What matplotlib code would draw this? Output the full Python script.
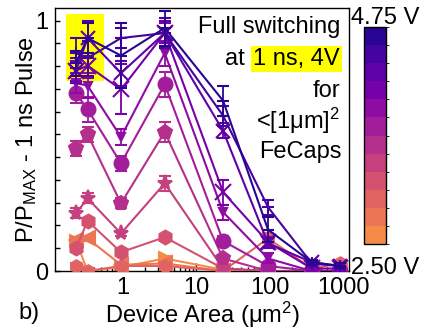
import numpy as np
import matplotlib
matplotlib.use("Agg")
import matplotlib.pyplot as plt
from matplotlib.colors import ListedColormap, BoundaryNorm
from matplotlib.patches import Rectangle
from matplotlib.ticker import MultipleLocator, FixedLocator, LogLocator, NullFormatter, FuncFormatter

plt.rcParams['font.family'] = ['Liberation Sans', 'DejaVu Sans']
plt.rcParams['mathtext.fontset'] = 'custom'
plt.rcParams['mathtext.rm'] = 'Liberation Sans'
plt.rcParams['mathtext.it'] = 'Liberation Sans:italic'

# device areas (um^2)
area = [0.23, 0.33, 0.94, 3.7, 23, 94, 370, 890]

# P/Pmax per pulse voltage, lowest (2.50 V) first
p_00 = [0.12, 0.00, 0.015, 0.05, 0.005, 0.00, 0.00, 0.00]
p_01 = [0.125, 0.13, 0.025, 0.03, 0.00, 0.00, 0.00, 0.00]
p_02 = [0.02, 0.00, 0.02, 0.02, 0.00, 0.13, 0.01, 0.03]
p_03 = [0.09, 0.20, 0.075, 0.135, 0.01, 0.00, 0.00, 0.00]
p_04 = [0.23, 0.29, 0.15, 0.35, 0.01, 0.00, 0.00, 0.00]
p_05 = [0.49, 0.545, 0.27, 0.555, 0.05, 0.00, 0.00, 0.00]
p_06 = [0.71, 0.645, 0.43, 0.745, 0.12, 0.02, 0.00, 0.00]
p_07 = [0.75, 0.74, 0.535, 0.87, 0.235, 0.05, 0.00, 0.00]
p_08 = [0.80, 0.82, 0.725, 0.95, 0.315, 0.115, 0.01, 0.01]
p_09 = [0.80, 0.93, 0.79, 0.95, 0.56, 0.11, 0.035, 0.02]
p_10 = [0.87, 0.85, 0.93, 0.95, 0.62, 0.255, 0.03, 0.02]
p_11 = [0.83, 0.93, 0.86, 0.97, 0.68, 0.165, 0.035, 0.02]

e_00 = [0.01, 0.01, 0.01, 0.01, 0.01, 0.00, 0.00, 0.00]
e_01 = [0.01, 0.01, 0.01, 0.01, 0.01, 0.00, 0.00, 0.00]
e_02 = [0.01, 0.01, 0.01, 0.01, 0.01, 0.02, 0.01, 0.01]
e_03 = [0.01, 0.01, 0.01, 0.01, 0.01, 0.00, 0.00, 0.00]
e_04 = [0.02, 0.02, 0.01, 0.03, 0.01, 0.00, 0.00, 0.00]
e_05 = [0.03, 0.03, 0.02, 0.04, 0.01, 0.00, 0.00, 0.00]
e_06 = [0.04, 0.05, 0.03, 0.05, 0.02, 0.01, 0.00, 0.00]
e_07 = [0.04, 0.05, 0.03, 0.05, 0.03, 0.02, 0.00, 0.00]
e_08 = [0.04, 0.05, 0.10, 0.04, 0.05, 0.02, 0.01, 0.01]
e_09 = [0.05, 0.07, 0.05, 0.05, 0.03, 0.02, 0.01, 0.01]
e_10 = [0.06, 0.07, 0.04, 0.06, 0.04, 0.03, 0.01, 0.01]
e_11 = [0.05, 0.06, 0.13, 0.07, 0.06, 0.05, 0.01, 0.01]

series = [p_00, p_01, p_02, p_03, p_04, p_05, p_06, p_07, p_08, p_09, p_10, p_11]
errors = [e_00, e_01, e_02, e_03, e_04, e_05, e_06, e_07, e_08, e_09, e_10, e_11]
markers = ['>', '<', 'h', 'h', '*', 'p', 'o', 'v', 'x', 'x', '+', '_']
msizes = [9, 10, 9, 10, 11, 10, 10, 6, 11, 10, 8, 8]

cbar_labels = ["2.50 V", "4.75 V"]

# colours: light orange (low V) -> dark indigo (high V)
colors = plt.cm.plasma(np.linspace(0.72, 0.05, 12))

W, H = 429, 329
fig = plt.figure(figsize=(W / 100, H / 100), dpi=100)
ax = fig.add_axes([55 / W, 1 - 271 / H, 294 / W, 263 / H])

# yellow highlight behind the small devices
ax.add_patch(Rectangle((0.168, 0.757), 0.551 - 0.168, 1.028 - 0.757,
                       facecolor='#ffff00', edgecolor='none', zorder=0))

for i in range(len(series)):
    c = colors[i]
    ax.errorbar(area, series[i], yerr=errors[i], color=c, lw=1.5,
                marker=markers[i], ms=msizes[i], mec=c, mfc=c, mew=1.5,
                capsize=4, elinewidth=1.3, capthick=1.3, zorder=2 + i)

ax.set_xscale('log')
ax.set_xlim(0.119, 1188)
ax.set_ylim(0, 1.05)

ax.xaxis.set_major_locator(FixedLocator([1, 10, 100, 1000]))
ax.xaxis.set_major_formatter(FuncFormatter(lambda v, p: "%d" % v))
ax.xaxis.set_minor_locator(LogLocator(base=10, subs=np.arange(2, 10)))
ax.xaxis.set_minor_formatter(NullFormatter())
ax.yaxis.set_major_locator(FixedLocator([0, 1]))
ax.yaxis.set_major_formatter(FuncFormatter(lambda v, p: "%d" % v))
ax.yaxis.set_minor_locator(MultipleLocator(1 / 11))

ax.tick_params(which='both', direction='in', top=False, right=False,
               labelsize=17, width=1)
ax.tick_params(axis='x', which='major', length=5.5, pad=4.5)
ax.tick_params(axis='x', which='minor', length=3)
ax.tick_params(axis='y', which='both', length=3.6, pad=5)
for s in ax.spines.values():
    s.set_linewidth(1)

ax.set_xlabel("Device Area (μm$^2$)", fontsize=17)
ax.set_ylabel(r"P/P$_{\mathrm{MAX}}$ - 1 ns Pulse", fontsize=17)
ax.xaxis.label.set_va('baseline')
ax.xaxis.set_label_coords(0.5, -(323 - 271) / 263)
ax.yaxis.set_label_coords(-0.055, 0.5)

def fx(px):
    return px / W

def fy(py):
    return 1 - py / H

fig.text(fx(340), fy(33), "Full switching", ha='right', va='baseline', fontsize=17)
fig.text(fx(340), fy(65), "1 ns, 4V", ha='right', va='baseline', fontsize=17,
         bbox=dict(facecolor='#ffff00', edgecolor='none', boxstyle='square,pad=0.08'))
fig.text(fx(245), fy(65), "at", ha='right', va='baseline', fontsize=17)
fig.text(fx(340), fy(97), "for", ha='right', va='baseline', fontsize=17)
fig.text(fx(340), fy(129), "<[1μm]$^2$", ha='right', va='baseline', fontsize=17)
fig.text(fx(342), fy(158), "FeCaps", ha='right', va='baseline', fontsize=17)
fig.text(fx(29), fy(313), "b)", ha='center', va='center', fontsize=17)

# discrete colour bar
cax = fig.add_axes([364 / W, 1 - 244 / H, 22 / W, 217 / H])
cmap = ListedColormap(colors)
norm = BoundaryNorm(np.arange(13), 12)
cb = fig.colorbar(plt.cm.ScalarMappable(norm=norm, cmap=cmap), cax=cax)
cb.set_ticks([])
cb.outline.set_linewidth(1)
fig.text(fx(385), fy(18), cbar_labels[1], ha='center', va='center', fontsize=17)
fig.text(fx(385), fy(268), cbar_labels[0], ha='center', va='center', fontsize=17)

fig.savefig("out.png", dpi=100)
